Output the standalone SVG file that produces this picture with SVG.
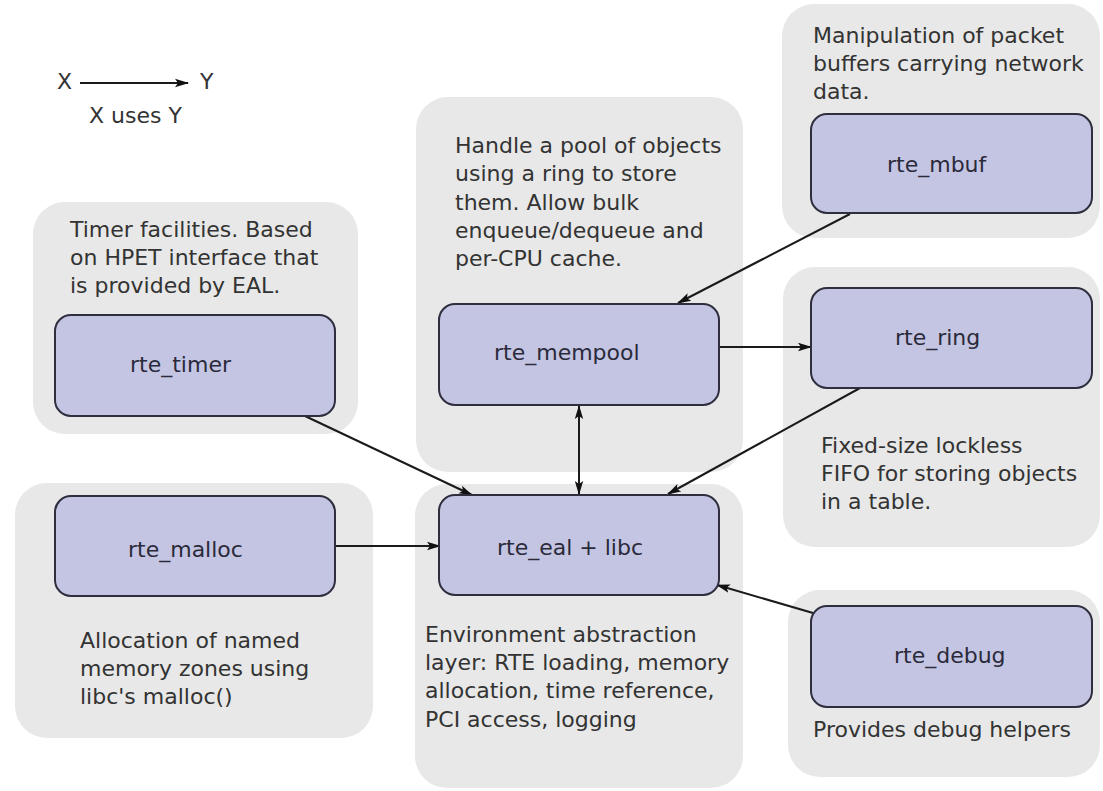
<svg xmlns="http://www.w3.org/2000/svg" width="1103" height="791" viewBox="0 0 1103 791">
  <style>
    .panel { fill: #e7e8e7; }
    .node { fill: #c4c5e3; stroke: #2e2e3e; stroke-width: 2; }
    text { font-family: "DejaVu Sans", "Liberation Sans", sans-serif; font-size: 22px; fill: #333333; }
    .lbl { fill: #2a2a3a; }
    .edge { stroke: #1a1a1a; stroke-width: 2; fill: none; marker-end: url(#arrow); }
  </style>
  <defs>
    <marker id="arrow" viewBox="0 0 14 10" refX="13" refY="5" markerUnits="userSpaceOnUse" markerWidth="14" markerHeight="10" orient="auto-start-reverse">
      <path d="M0,0.8 L14,5 L0,9.2 L3,5 Z" fill="#111111"/>
    </marker>
  </defs>

  <rect width="1103" height="791" fill="#ffffff"/>

  <!-- legend -->
  <g id="legend">
    <text x="57" y="89">X</text>
    <text x="200" y="89">Y</text>
    <line class="edge" x1="80" y1="83" x2="188" y2="83"/>
    <text x="89" y="123">X uses Y</text>
  </g>

  <!-- background panels -->
  <g id="panels">
    <rect class="panel" x="33" y="202" width="325" height="232" rx="32"/>
    <rect class="panel" x="15" y="483" width="358" height="255" rx="32"/>
    <rect class="panel" x="416" y="97" width="327" height="375" rx="32"/>
    <rect class="panel" x="415" y="484" width="328" height="304" rx="32"/>
    <rect class="panel" x="782" y="4" width="318" height="234" rx="32"/>
    <rect class="panel" x="783" y="267" width="317" height="280" rx="32"/>
    <rect class="panel" x="788" y="590" width="312" height="187" rx="32"/>
  </g>

  <!-- connectors -->
  <g id="connectors">
    <line class="edge" x1="850" y1="214" x2="678" y2="303"/>
    <line class="edge" x1="720" y1="347" x2="811" y2="347"/>
    <line class="edge" x1="860" y1="388" x2="668" y2="494"/>
    <line class="edge" x1="579" y1="406" x2="579" y2="494" marker-start="url(#arrow)"/>
    <line class="edge" x1="305" y1="416" x2="472" y2="495"/>
    <line class="edge" x1="335" y1="546" x2="440" y2="546"/>
    <line class="edge" x1="813" y1="613" x2="717" y2="585"/>
  </g>

  <g id="rte_timer">
    <text x="70" y="237">Timer facilities. Based</text>
    <text x="70" y="265">on HPET interface that</text>
    <text x="70" y="293">is provided by EAL.</text>
    <rect class="node" x="55" y="315" width="280" height="101" rx="16"/>
    <text class="lbl" x="130" y="372">rte_timer</text>
  </g>

  <g id="rte_malloc">
    <rect class="node" x="55" y="496" width="280" height="100" rx="16"/>
    <text class="lbl" x="128" y="557">rte_malloc</text>
    <text x="80" y="648">Allocation of named</text>
    <text x="80" y="676">memory zones using</text>
    <text x="80" y="704">libc's malloc()</text>
  </g>

  <g id="rte_mempool">
    <text x="455" y="153">Handle a pool of objects</text>
    <text x="455" y="181">using a ring to store</text>
    <text x="455" y="210">them. Allow bulk</text>
    <text x="455" y="238">enqueue/dequeue and</text>
    <text x="455" y="266">per-CPU cache.</text>
    <rect class="node" x="439" y="304" width="280" height="101" rx="16"/>
    <text class="lbl" x="494" y="360">rte_mempool</text>
  </g>

  <g id="rte_eal">
    <rect class="node" x="439" y="495" width="280" height="100" rx="16"/>
    <text class="lbl" x="497" y="555">rte_eal + libc</text>
    <text x="425" y="642">Environment abstraction</text>
    <text x="425" y="670">layer: RTE loading, memory</text>
    <text x="425" y="698">allocation, time reference,</text>
    <text x="425" y="727">PCI access, logging</text>
  </g>

  <g id="rte_mbuf">
    <text x="813" y="43">Manipulation of packet</text>
    <text x="813" y="71">buffers carrying network</text>
    <text x="813" y="99">data.</text>
    <rect class="node" x="811" y="114" width="281" height="99" rx="16"/>
    <text class="lbl" x="887" y="172">rte_mbuf</text>
  </g>

  <g id="rte_ring">
    <rect class="node" x="811" y="288" width="281" height="100" rx="16"/>
    <text class="lbl" x="895" y="345">rte_ring</text>
    <text x="821" y="453">Fixed-size lockless</text>
    <text x="821" y="481">FIFO for storing objects</text>
    <text x="821" y="509">in a table.</text>
  </g>

  <g id="rte_debug">
    <rect class="node" x="811" y="606" width="281" height="101" rx="16"/>
    <text class="lbl" x="894" y="663">rte_debug</text>
    <text x="813" y="737">Provides debug helpers</text>
  </g>
</svg>
